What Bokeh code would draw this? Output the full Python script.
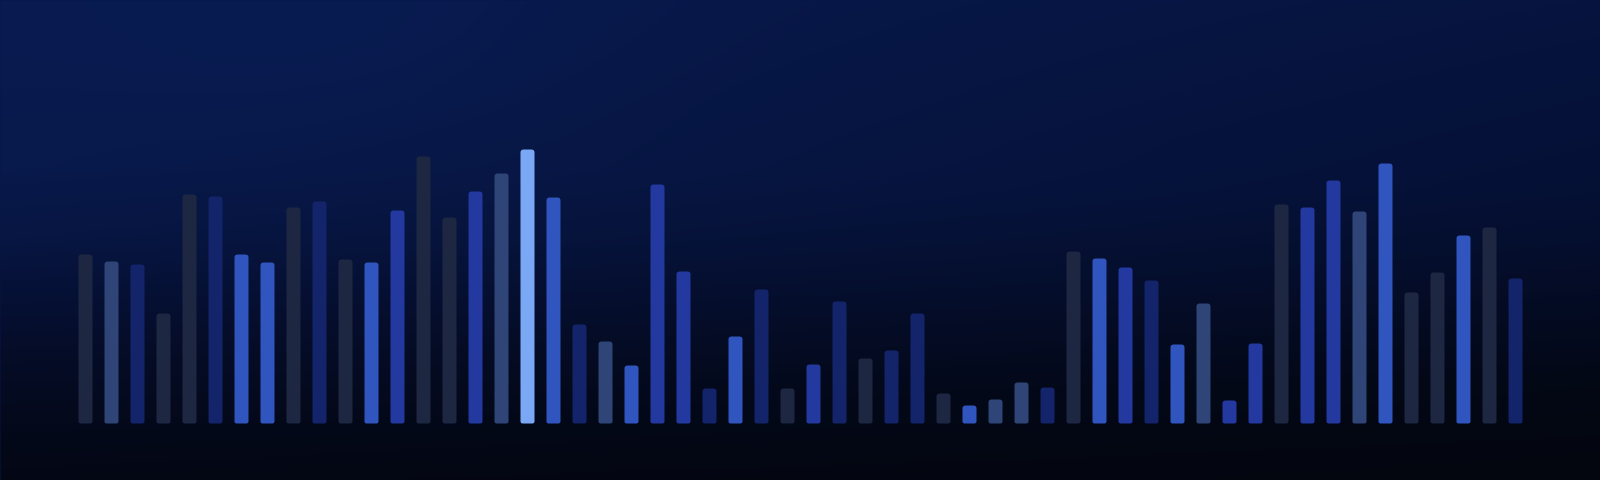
import numpy as np
from bokeh.plotting import figure
from bokeh.models import Range1d, ColumnDataSource, GlobalInlineStyleSheet
from bokeh.embed import file_html
from bokeh.resources import INLINE

# ---- data ----
categories = [str(i + 1) for i in range(56)]
values = [169, 162, 159, 110, 229, 227, 169, 161, 216, 222,
          164, 161, 213, 267, 206, 232, 250, 274, 226, 99,
          82, 58, 239, 152, 35, 87, 134, 35, 59, 122,
          65, 73, 110, 30, 18, 24, 41, 36, 172, 165,
          156, 143, 79, 120, 23, 80, 219, 216, 243, 212,
          260, 131, 151, 188, 196, 145]
tones = ["slate", "steel", "navy", "slate", "slate", "navy", "cobalt", "cobalt", "slate", "navy",
         "slate", "cobalt", "royal", "slate", "slate", "royal", "steel", "sky", "cobalt", "navy",
         "steel", "cobalt", "royal", "royal", "navy", "cobalt", "navy", "slate", "royal", "navy",
         "slate", "navy", "navy", "slate", "cobalt", "steel", "steel", "navy", "slate", "cobalt",
         "royal", "navy", "cobalt", "steel", "royal", "royal", "slate", "royal", "royal", "steel",
         "cobalt", "slate", "slate", "cobalt", "slate", "navy"]
palette = {"slate": "#1e2742", "steel": "#2f4577", "navy": "#13246a",
           "royal": "#2339a0", "cobalt": "#3055be", "sky": "#7aa8f5"}

# ---- figure geometry (page pixels) ----
W, H = 1600, 480
x0 = -85 / 26.0
x1 = x0 + W / 26.0
y0, y1 = -57, 423

css = GlobalInlineStyleSheet(css="html,body{margin:0;padding:0;overflow:hidden;background:#07174a;}")

p = figure(width=W, height=H, output_backend="svg", toolbar_location=None,
           x_range=Range1d(x0, x1), y_range=Range1d(y0, y1),
           min_border=0, stylesheets=[css])
p.axis.visible = False
p.grid.visible = False
p.outline_line_color = None
p.background_fill_color = "#07174a"
p.border_fill_color = "#07174a"

# ---- background gradient ----
h, w = H // 2, W // 2
px = 2 * np.arange(w) + 1.0
py = 2 * np.arange(h) + 1.0
PX, PY = np.meshgrid(px, py)
t = PY / 480.0
u = PX / 1600.0
left_t = [0.0, 0.35, 0.5, 0.6, 0.75, 0.88, 1.0]
left_c = np.array([[8, 26, 79], [8, 25, 75], [7, 22, 66], [6, 17, 55], [5, 12, 38], [4, 9, 27], [4, 7, 20]], float)
right_t = [0.0, 0.4, 0.6, 0.8, 0.9, 1.0]
right_c = np.array([[6, 20, 63], [5, 16, 53], [4, 12, 38], [3, 8, 21], [3, 7, 17], [3, 6, 14]], float)
colL = np.zeros((h, w, 3))
colR = np.zeros((h, w, 3))
for k in range(3):
    colL[..., k] = np.interp(t, left_t, left_c[:, k])
    colR[..., k] = np.interp(t, right_t, right_c[:, k])
col = colL * (1 - u[..., None]) + colR * u[..., None]
glow = np.exp(-(((PX - 330) / 280.0) ** 2 + ((PY - 30) / 120.0) ** 2))
col += glow[..., None] * np.array([1, 3, 6])
col = np.clip(col, 0, 255).astype(np.uint8)
img = np.zeros((h, w), dtype=np.uint32)
view = img.view(dtype=np.uint8).reshape((h, w, 4))
view[..., 0] = col[..., 0]
view[..., 1] = col[..., 1]
view[..., 2] = col[..., 2]
view[..., 3] = 255
img = img[::-1]
pad_x = 4 / 26.0
p.image_rgba(image=[img], x=x0 - pad_x, y=y0 - 4, dw=x1 - x0 + 2 * pad_x, dh=y1 - y0 + 8)

# ---- bars ----
src = ColumnDataSource(dict(x=list(range(len(categories))), top=values,
                            color=[palette[t_] for t_ in tones], cat=categories))
p.vbar(x="x", top="top", bottom=0, width=14 / 26.0, source=src,
       fill_color="color", line_color=None, border_radius=(3, 3, 2, 2))

open("out.html", "w").write(file_html(p, INLINE))
